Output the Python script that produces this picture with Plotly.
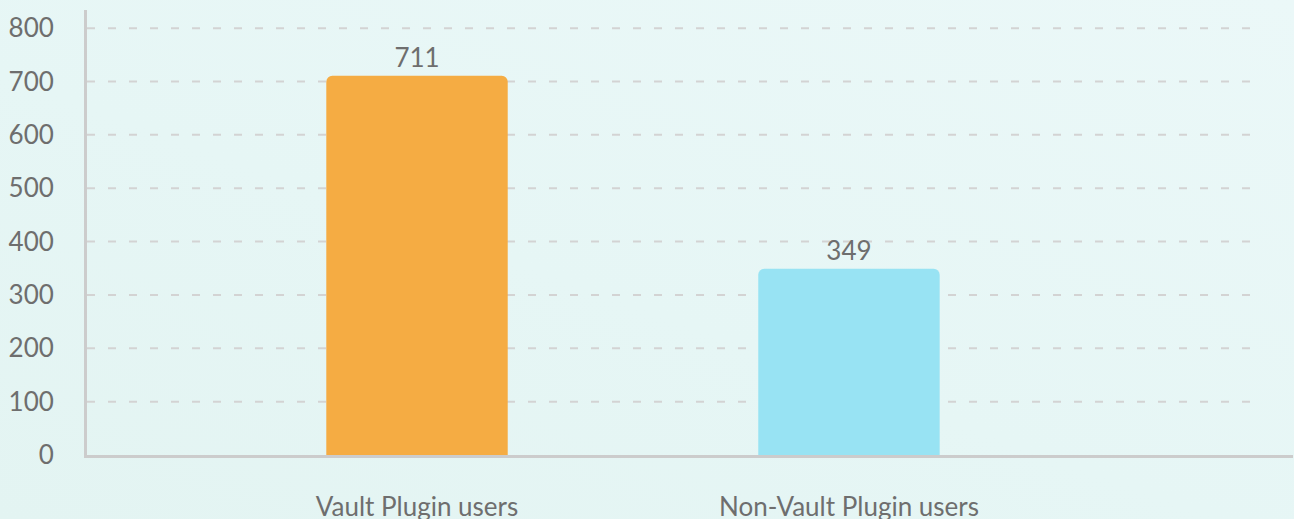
import plotly.graph_objects as go

categories = ["Vault Plugin users", "Non-Vault Plugin users"]
values = [711, 349]
colors = ["#F5AC43", "#98E3F3"]
y_ticks = [0, 100, 200, 300, 400, 500, 600, 700, 800]

font_family = "Lato, 'Open Sans', sans-serif"
text_color = "#6e6e6e"

fig = go.Figure()
fig.add_trace(go.Bar(
    x=list(range(len(categories))),
    y=values,
    marker=dict(color=colors, line=dict(width=0), cornerradius=6),
    width=0.42,
    text=[str(v) for v in values],
    textposition="outside",
    textfont=dict(size=26, color=text_color, family=font_family),
    cliponaxis=False,
    hoverinfo="x+y",
))

shapes = []
for t in y_ticks[1:]:
    shapes.append(dict(
        type="line", xref="paper", yref="y", x0=0, x1=0.966, y0=t, y1=t,
        line=dict(color="#d3d3d3", width=2, dash="8px,13px"), layer="below",
    ))

fig.update_layout(
    width=1294, height=519,
    margin=dict(l=87, r=1, t=10, b=64),
    paper_bgcolor="rgba(0,0,0,0)",
    plot_bgcolor="rgba(0,0,0,0)",
    showlegend=False,
    shapes=shapes,
    font=dict(family=font_family, color=text_color, size=26),
    xaxis=dict(
        range=[-0.764, 2.028],
        tickmode="array",
        tickvals=list(range(len(categories))),
        ticktext=categories,
        showgrid=False, zeroline=False,
        showline=True, linecolor="#cccccc", linewidth=3,
        ticks="", ticklabelstandoff=27, automargin=False,
        tickfont=dict(size=26, color=text_color, family=font_family),
    ),
    yaxis=dict(
        range=[0, 834],
        tickmode="array",
        tickvals=y_ticks,
        showgrid=False, zeroline=False,
        showline=True, linecolor="#cccccc", linewidth=3,
        ticks="", ticklabelstandoff=25, automargin=False,
        tickfont=dict(size=26, color=text_color, family=font_family),
    ),
)

post = (
    "document.body.style.margin='0';"
    "document.body.style.overflow='hidden';"
    "document.body.style.background='linear-gradient(200deg, #EBF8F8 0%, #E6F6F5 55%, #E3F4F2 100%)';"
)

fig.write_html("out.html", post_script=post, config={"displayModeBar": False})
